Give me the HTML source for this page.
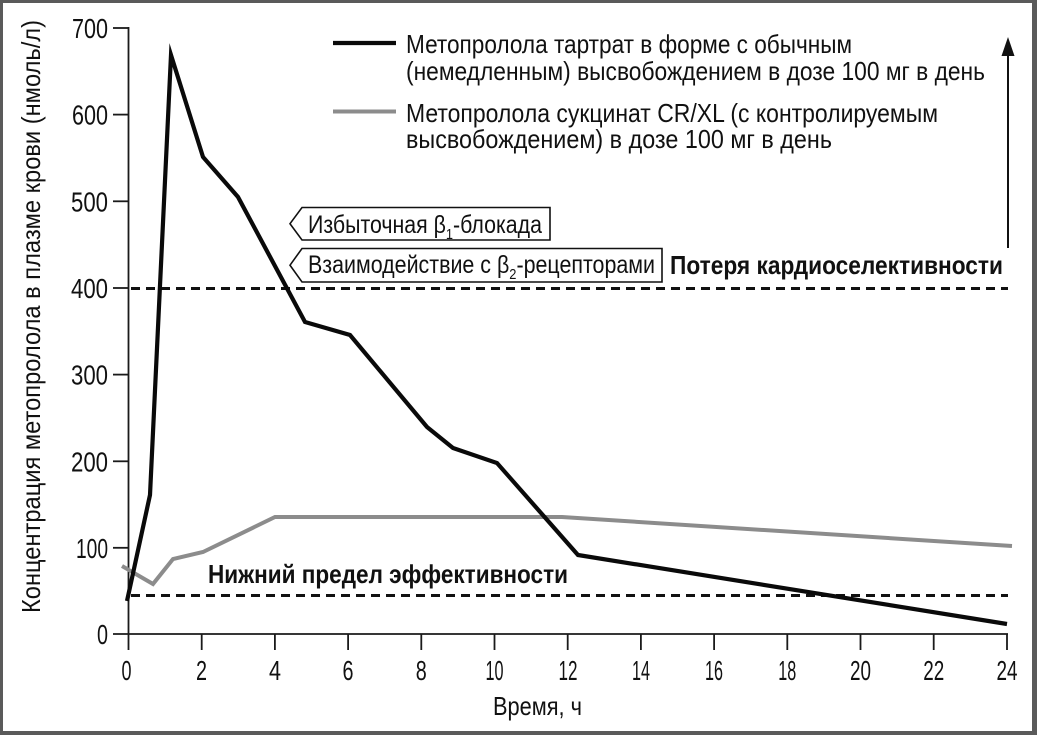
<!DOCTYPE html>
<html>
<head>
<meta charset="utf-8">
<style>
  html, body { margin: 0; padding: 0; background: #ffffff; }
  svg { display: block; }
  text { font-family: "Liberation Sans", "DejaVu Sans", sans-serif; fill: #111; }
  .b { font-weight: bold; }
</style>
</head>
<body>
<svg width="1037" height="735" viewBox="0 0 1037 735" xmlns="http://www.w3.org/2000/svg">
  <!-- background and frame -->
  <rect x="0" y="0" width="1037" height="735" fill="#5a5a5a"/>
  <rect x="3" y="3" width="1029" height="728" fill="#ffffff"/>

  <!-- Y axis -->
  <line x1="128.5" y1="27" x2="128.5" y2="650" stroke="#1a1a1a" stroke-width="1.8"/>
  <g stroke="#1a1a1a" stroke-width="1.8">
    <line x1="113" y1="28" x2="129" y2="28"/>
    <line x1="113" y1="114.6" x2="129" y2="114.6"/>
    <line x1="113" y1="201.3" x2="129" y2="201.3"/>
    <line x1="113" y1="288" x2="129" y2="288"/>
    <line x1="113" y1="374.6" x2="129" y2="374.6"/>
    <line x1="113" y1="461.3" x2="129" y2="461.3"/>
    <line x1="113" y1="547.8" x2="129" y2="547.8"/>
    <line x1="113" y1="634" x2="1008" y2="634"/>
  </g>
  <!-- X ticks -->
  <g stroke="#1a1a1a" stroke-width="1.8">
    <line x1="201.7" y1="634" x2="201.7" y2="650"/>
    <line x1="274.9" y1="634" x2="274.9" y2="650"/>
    <line x1="348.1" y1="634" x2="348.1" y2="650"/>
    <line x1="421.3" y1="634" x2="421.3" y2="650"/>
    <line x1="494.5" y1="634" x2="494.5" y2="650"/>
    <line x1="567.7" y1="634" x2="567.7" y2="650"/>
    <line x1="640.9" y1="634" x2="640.9" y2="650"/>
    <line x1="714.1" y1="634" x2="714.1" y2="650"/>
    <line x1="787.3" y1="634" x2="787.3" y2="650"/>
    <line x1="860.5" y1="634" x2="860.5" y2="650"/>
    <line x1="933.7" y1="634" x2="933.7" y2="650"/>
    <line x1="1007" y1="634" x2="1007" y2="650"/>
  </g>

  <!-- Y tick labels -->
  <g font-size="28" text-anchor="end">
    <text x="108" y="38" textLength="36" lengthAdjust="spacingAndGlyphs">700</text>
    <text x="108" y="124.6" textLength="36" lengthAdjust="spacingAndGlyphs">600</text>
    <text x="108" y="211.3" textLength="37" lengthAdjust="spacingAndGlyphs">500</text>
    <text x="108" y="298" textLength="37" lengthAdjust="spacingAndGlyphs">400</text>
    <text x="108" y="384.6" textLength="37" lengthAdjust="spacingAndGlyphs">300</text>
    <text x="108" y="471.3" textLength="37" lengthAdjust="spacingAndGlyphs">200</text>
    <text x="108" y="557.8" textLength="32" lengthAdjust="spacingAndGlyphs">100</text>
    <text x="108" y="644" textLength="11" lengthAdjust="spacingAndGlyphs">0</text>
  </g>

  <!-- X tick labels -->
  <g font-size="28">
    <text x="121.5" y="680" textLength="10" lengthAdjust="spacingAndGlyphs">0</text>
    <text x="196" y="680" textLength="11" lengthAdjust="spacingAndGlyphs">2</text>
    <text x="269" y="680" textLength="12" lengthAdjust="spacingAndGlyphs">4</text>
    <text x="342.5" y="680" textLength="11" lengthAdjust="spacingAndGlyphs">6</text>
    <text x="415.8" y="680" textLength="11" lengthAdjust="spacingAndGlyphs">8</text>
    <text x="485.5" y="680" textLength="18" lengthAdjust="spacingAndGlyphs">10</text>
    <text x="558.5" y="680" textLength="19" lengthAdjust="spacingAndGlyphs">12</text>
    <text x="632" y="680" textLength="18" lengthAdjust="spacingAndGlyphs">14</text>
    <text x="705" y="680" textLength="18" lengthAdjust="spacingAndGlyphs">16</text>
    <text x="778.3" y="680" textLength="18" lengthAdjust="spacingAndGlyphs">18</text>
    <text x="850" y="680" textLength="21" lengthAdjust="spacingAndGlyphs">20</text>
    <text x="923.2" y="680" textLength="21" lengthAdjust="spacingAndGlyphs">22</text>
    <text x="996.5" y="680" textLength="21" lengthAdjust="spacingAndGlyphs">24</text>
  </g>

  <!-- Axis titles -->
  <text x="493" y="715" font-size="26" textLength="89" lengthAdjust="spacingAndGlyphs">Время, ч</text>
  <text transform="translate(40,613) rotate(-90)" x="0" y="0" font-size="26" textLength="593" lengthAdjust="spacingAndGlyphs">Концентрация метопролола в плазме крови (нмоль/л)</text>

  <!-- Threshold dashed lines -->
  <line x1="131" y1="288.5" x2="1008" y2="288.5" stroke="#111" stroke-width="3" stroke-dasharray="9 6"/>
  <line x1="131" y1="595.5" x2="1008" y2="595.5" stroke="#111" stroke-width="3" stroke-dasharray="9 6"/>

  <!-- Threshold labels -->
  <text class="b" x="670" y="274" font-size="26" textLength="333" lengthAdjust="spacingAndGlyphs">Потеря кардиоселективности</text>
  <text class="b" x="208" y="583" font-size="26" textLength="360" lengthAdjust="spacingAndGlyphs">Нижний предел эффективности</text>

  <!-- Arrow -->
  <line x1="1008" y1="248" x2="1008" y2="52" stroke="#111" stroke-width="2"/>
  <polygon points="1008,37 1001.5,56 1014.5,56" fill="#111"/>

  <!-- Gray series (CR/XL) -->
  <polyline fill="none" stroke="#8c8c8c" stroke-width="4" stroke-linejoin="miter"
    points="122,566 153,584 173,559 203,552 275,517 562,517 1012,546"/>

  <!-- Black series (tartrate) -->
  <polyline fill="none" stroke="#0a0a0a" stroke-width="4.2" stroke-linejoin="miter" stroke-miterlimit="12"
    points="127,601 150,495 171,55 203,157 238,197 305,322 350,335 427,427 453,448 497,463 578,555 1007,624"/>

  <!-- Annotation boxes -->
  <path d="M302,207.5 L550,207.5 L550,240 L302,240 L290,223.7 Z" fill="#fff" stroke="#111" stroke-width="1.6"/>
  <text x="308" y="233" font-size="25" textLength="234" lengthAdjust="spacingAndGlyphs">Избыточная β<tspan font-size="15" dy="6">1</tspan><tspan dy="-6">-блокада</tspan></text>

  <path d="M302,248.5 L662,248.5 L662,282 L302,282 L290,265.2 Z" fill="#fff" stroke="#111" stroke-width="1.6"/>
  <text x="308" y="273" font-size="25" textLength="347" lengthAdjust="spacingAndGlyphs">Взаимодействие с β<tspan font-size="15" dy="6">2</tspan><tspan dy="-6">-рецепторами</tspan></text>

  <!-- Legend -->
  <line x1="333" y1="43" x2="396" y2="43" stroke="#0a0a0a" stroke-width="4.2"/>
  <line x1="333" y1="111.5" x2="396" y2="111.5" stroke="#8c8c8c" stroke-width="4"/>
  <g font-size="26">
    <text x="406" y="53" textLength="446" lengthAdjust="spacingAndGlyphs">Метопролола тартрат в форме с обычным</text>
    <text x="406" y="80" textLength="579" lengthAdjust="spacingAndGlyphs">(немедленным) высвобождением в дозе 100 мг в день</text>
    <text x="406" y="122" textLength="532" lengthAdjust="spacingAndGlyphs">Метопролола сукцинат CR/XL (с контролируемым</text>
    <text x="406" y="148" textLength="426" lengthAdjust="spacingAndGlyphs">высвобождением) в дозе 100 мг в день</text>
  </g>
</svg>
</body>
</html>
